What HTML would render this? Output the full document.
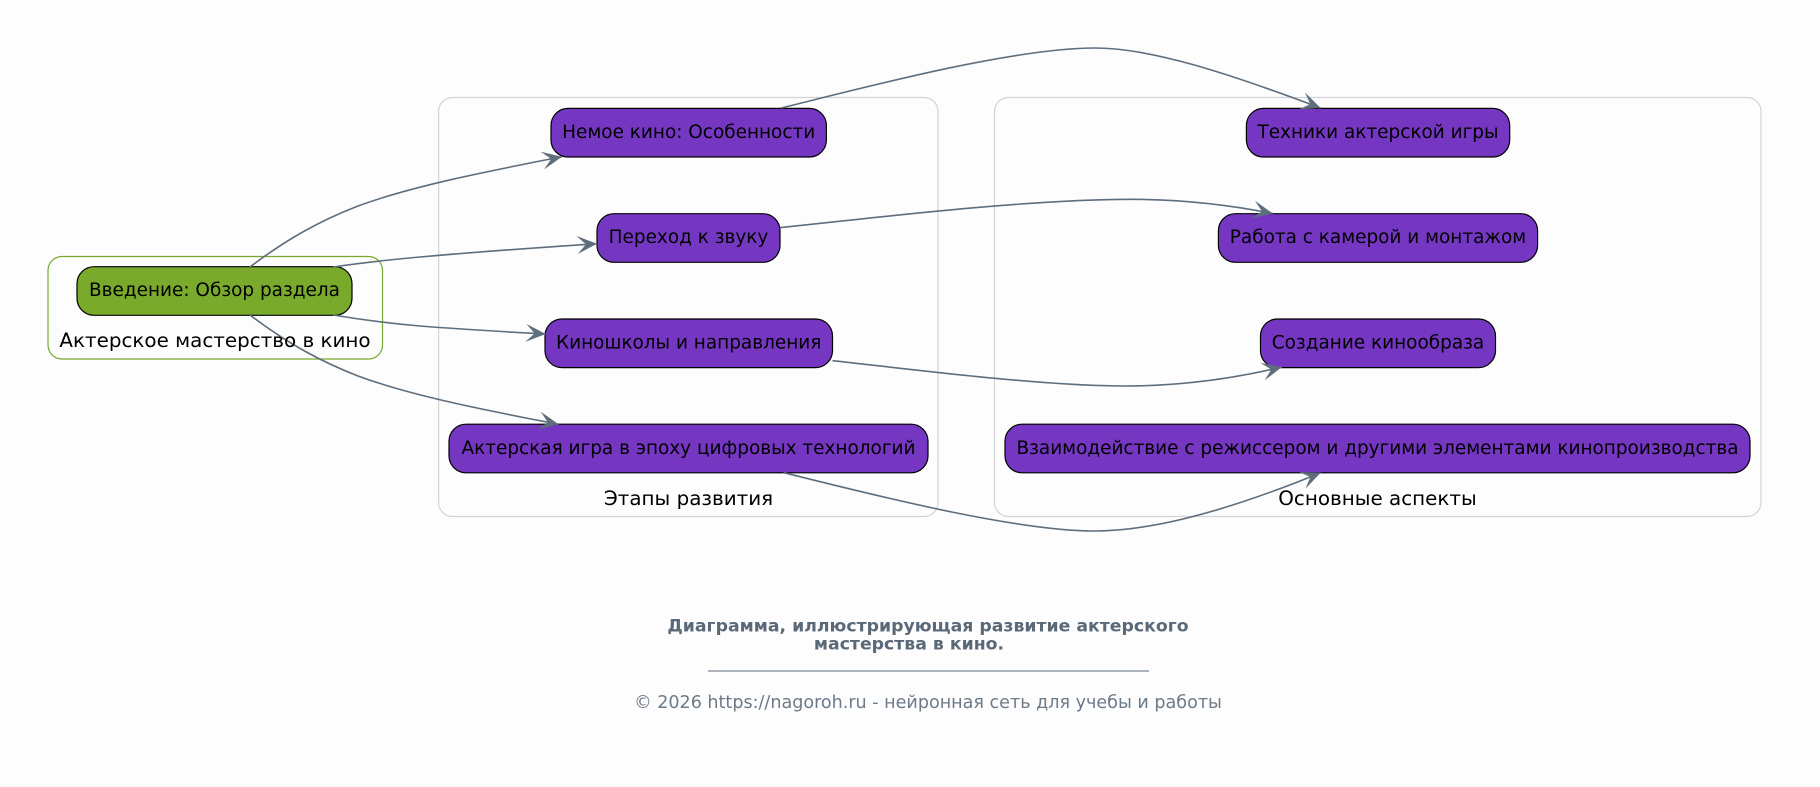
<!DOCTYPE html>
<html lang="ru">
<head>
<meta charset="utf-8">
<title>Актерское мастерство в кино</title>
<style>
html,body{margin:0;padding:0;background:#fdfdfd;width:1820px;height:787px;overflow:hidden}
svg{display:block}
text{font-family:"DejaVu Sans",sans-serif;text-anchor:middle;dominant-baseline:central}
.n{fill:#7537c2;stroke:#000;stroke-width:1.2}
.e{fill:none;stroke:#5e6e7d;stroke-width:1.6;marker-end:url(#a)}
.c{fill:none;stroke:#d3d3d3;stroke-width:1.2}
.t{font-size:18.45px;fill:#000}
.l{font-size:19.9px;fill:#000}
</style>
</head>
<body>
<svg width="1820" height="787" viewBox="0 0 1820 787" xmlns="http://www.w3.org/2000/svg">
<defs>
<marker id="a" markerUnits="userSpaceOnUse" markerWidth="24" markerHeight="22" refX="21" refY="11" orient="auto">
<path d="M21,11 L1,2 L10,11 L1,20 Z" fill="#5e6e7d"/>
</marker>
</defs>

<rect x="48" y="256.5" width="334.5" height="102.5" rx="14" style="fill:none;stroke:#7aa82c;stroke-width:1.2"/>
<rect x="438.6" y="97.5" width="499.4" height="419" rx="14" class="c"/>
<rect x="994.5" y="97.5" width="766.5" height="419" rx="14" class="c"/>

<rect x="77" y="266.7" width="275" height="48.6" rx="17" style="fill:#79aa2b;stroke:#000;stroke-width:1.2"/>
<rect x="551" y="108.4" width="275.4" height="48.6" rx="17" class="n"/>
<rect x="597" y="213.7" width="183" height="48.6" rx="17" class="n"/>
<rect x="545" y="319" width="287.5" height="48.6" rx="17" class="n"/>
<rect x="449" y="424.2" width="479" height="48.6" rx="17" class="n"/>
<rect x="1246.4" y="108.4" width="263.3" height="48.6" rx="17" class="n"/>
<rect x="1218.4" y="213.7" width="319.2" height="48.6" rx="17" class="n"/>
<rect x="1260.5" y="319" width="235" height="48.6" rx="17" class="n"/>
<rect x="1005" y="424.2" width="745" height="48.6" rx="17" class="n"/>

<path class="e" d="M250,267 C288,238 322,220 358,206 C415,185 495,170 562,156.7"/>
<path class="e" d="M333,267 C350,264.5 375,261 420,257 C470,252.5 540,247.5 597,243.7"/>
<path class="e" d="M333,315 C360,319.5 385,323 420,326 C470,330 510,332 545.7,334"/>
<path class="e" d="M250,315 C288,344 322,362 358,376 C415,397 495,412 558.6,424.3"/>
<path class="e" d="M781,108 C855,90 1010,48 1095,48 C1150,48 1225,72 1320.6,108"/>
<path class="e" d="M780,227.7 C880,217 1030,199.3 1130,199.3 C1185,199.3 1230,205 1272.8,213.5"/>
<path class="e" d="M832.5,360.7 C910,369 1040,386 1125,386 C1185,386 1240,377 1282,367"/>
<path class="e" d="M783.6,472.7 C855,490 1010,531 1095,531 C1150,531 1225,512 1320.6,472.7"/>

<text class="t" x="214.5" y="290.5">Введение: Обзор раздела</text>
<text class="t" x="688.7" y="132.5">Немое кино: Особенности</text>
<text class="t" x="688.5" y="237.5">Переход к звуку</text>
<text class="t" x="688.7" y="343">Киношколы и направления</text>
<text class="t" x="688.5" y="448.5">Актерская игра в эпоху цифровых технологий</text>
<text class="t" x="1378" y="132.5">Техники актерской игры</text>
<text class="t" x="1378" y="237.5">Работа с камерой и монтажом</text>
<text class="t" x="1378" y="343">Создание кинообраза</text>
<text class="t" x="1377.5" y="448.5">Взаимодействие с режиссером и другими элементами кинопроизводства</text>
<text class="l" x="215" y="340.5">Актерское мастерство в кино</text>
<text class="l" x="688.5" y="498.5">Этапы развития</text>
<text class="l" x="1377.5" y="498.5">Основные аспекты</text>

<text x="928" y="626.5" style="font-size:17.3px;font-weight:bold;fill:#5a6978">Диаграмма, иллюстрирующая развитие актерского</text>
<text x="909" y="644.5" style="font-size:17.3px;font-weight:bold;fill:#5a6978">мастерства в кино.</text>
<line x1="708" y1="671" x2="1149" y2="671" stroke="#5a6978" stroke-width="1"/>
<text x="928" y="703" style="font-size:17.56px;fill:#6c7a89">© 2026 https://nagoroh.ru - нейронная сеть для учебы и работы</text>
</svg>
</body>
</html>
